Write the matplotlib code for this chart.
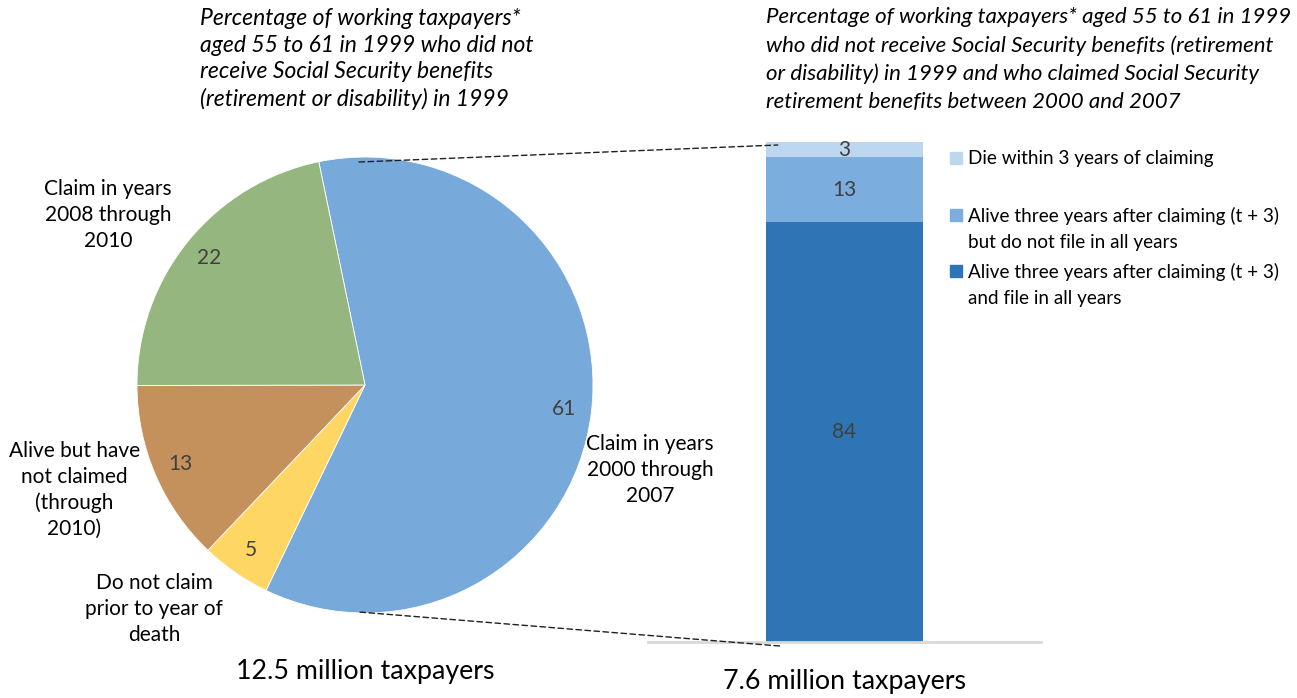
import matplotlib
matplotlib.use('Agg')
import matplotlib.pyplot as plt
from matplotlib.patches import ConnectionPatch, Rectangle

plt.rcParams['font.family'] = ['Lato', 'DejaVu Sans']

# pie: taxpayers aged 55-61 in 1999 without SS benefits
pie_values = [61, 5, 13, 22]
pie_labels = ['Claim in years\n2000 through\n2007',
              'Do not claim\nprior to year of\ndeath',
              'Alive but have\nnot claimed\n(through\n2010)',
              'Claim in years\n2008 through\n2010']
pie_colors = ['#77AADB', '#FED664', '#C4905C', '#95B77F']

# stacked bar: those who claimed 2000-2007
bar_values = [84, 13, 3]
bar_labels = ['Alive three years after claiming (t + 3)\nand file in all years',
              'Alive three years after claiming (t + 3)\nbut do not file in all years',
              'Die within 3 years of claiming']
bar_colors = ['#2E75B6', '#7BAEDF', '#BDD7EE']

W, H = 1297, 698
fig = plt.figure(figsize=(W / 100, H / 100), dpi=100)

# pie axes, centre (365,385) px, radius 228 px
cx, cy, r = 365, 385, 228
pad = 1.05
ax = fig.add_axes([(cx - r * pad) / W, (H - cy - r * pad) / H,
                   2 * r * pad / W, 2 * r * pad / H])
wedges, texts = ax.pie(pie_values, colors=pie_colors, startangle=101.7,
                       counterclock=False, radius=1,
                       labels=[str(v) for v in pie_values], labeldistance=0.88,
                       wedgeprops=dict(linewidth=0.6, edgecolor='white'))
for t in texts:
    t.set_ha('center')
    t.set_va('center')
    t.set_fontsize(15)
    t.set_color('#404040')
ax.set_xlim(-pad, pad)
ax.set_ylim(-pad, pad)
ax.axis('off')

label_pos = [(1.25, -0.373), (-0.925, -0.982), (-1.276, -0.461), (-1.127, 0.746)]
for lab, (x, y) in zip(pie_labels, label_pos):
    ax.text(x, y, lab, ha='center', va='center', fontsize=15,
            linespacing=1.36, color='black', clip_on=False, zorder=10)

# bar axes
bx0, bx1, by0, by1 = 648, 1041, 642, 142
ax2 = fig.add_axes([bx0 / W, (H - by0) / H, (bx1 - bx0) / W, (by0 - by1) / H])
ax2.patch.set_visible(False)
bottom = 0
for v, c in zip(bar_values, bar_colors):
    ax2.bar(0, v, width=0.8, bottom=bottom, color=c)
    ax2.text(0, bottom + v / 2, str(v), ha='center', va='center',
             fontsize=15, color='#404040')
    bottom += v
ax2.set_xlim(-1, 1)
ax2.set_ylim(0, 100)
for s in ['top', 'left', 'right']:
    ax2.spines[s].set_visible(False)
ax2.spines['bottom'].set_color('#D9D9D9')
ax2.spines['bottom'].set_linewidth(2)
ax2.set_xticks([])
ax2.set_yticks([])
ax.set_zorder(2)

# dashed connector lines
for pA, pB in [((-0.026, 0.978), (-0.34, 99.4)), ((-0.022, -0.996), (-0.33, -0.8))]:
    con = ConnectionPatch(xyA=pA, coordsA=ax.transData, xyB=pB, coordsB=ax2.transData,
                          linestyle=(0, (4, 2.5)), color='#202020', linewidth=1,
                          zorder=5)
    fig.add_artist(con)

# legend (manual, Excel style: marker next to first line)
leg_first = [271, 215, 158]
for lab, c, y in zip(bar_labels, bar_colors, leg_first):
    fig.add_artist(Rectangle((950 / W, 1 - (y + 6) / H), 12 / W, 12 / H,
                             transform=fig.transFigure, color=c))
    fig.text(968 / W, 1 - (y - 8) / H, lab, ha='left', va='top', fontsize=13.6,
             linespacing=1.65)

# titles
fig.text(200 / W, 1 - 8 / H,
         'Percentage of working taxpayers*\naged 55 to 61 in 1999 who did not\n'
         'receive Social Security benefits\n(retirement or disability) in 1999',
         ha='left', va='top', fontsize=16.5, style='italic', linespacing=1.33)
fig.text(766 / W, 1 - 7 / H,
         'Percentage of working taxpayers* aged 55 to 61 in 1999\n'
         'who did not receive Social Security benefits (retirement\n'
         'or disability) in 1999 and who claimed Social Security\n'
         'retirement benefits between 2000 and 2007',
         ha='left', va='top', fontsize=16, style='italic', linespacing=1.48)

fig.text(cx / W, 1 - 671 / H, '12.5 million taxpayers', ha='center', va='center', fontsize=19.3)
fig.text(844.5 / W, 1 - 682 / H, '7.6 million taxpayers', ha='center', va='center', fontsize=19.3)

fig.savefig('out.png', dpi=100)
